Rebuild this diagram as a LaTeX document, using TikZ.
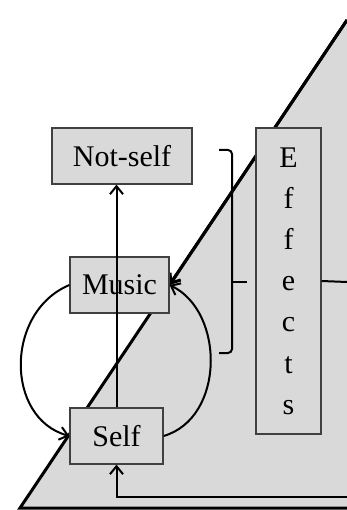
\documentclass[tikz,border=0pt]{standalone}
\usepackage{fontspec}
\setmainfont{Liberation Serif}
\usetikzlibrary{arrows.meta,backgrounds}
\definecolor{fillgray}{RGB}{217,217,217}
\definecolor{linegray}{RGB}{64,64,64}
\tikzset{
  box/.style  = {rectangle, draw=linegray, fill=fillgray, line width=1.2pt,
                 inner sep=0pt, font=\fontsize{30}{41.2}\selectfont},
  line/.style = {line width=2pt},
  link/.style = {line, -{Straight Barb[length=8pt,width=13pt]}},
  edge/.style = {line width=3pt}
}

\begin{document}
\begin{tikzpicture}[x=1pt, y=-1pt]
\useasboundingbox (0,0) rectangle (347,510);

% boxes
\node[box, minimum width=140, minimum height=56] (notself) at (122,156)   {Not-self};
\node[box, minimum width=99,  minimum height=56] (music)   at (119.5,285) {Music};
\node[box, minimum width=93,  minimum height=56] (self)    at (116.5,436) {Self};
\node[box, minimum width=65,  minimum height=306, align=center]
     (effects) at (288.5,281) {E\\f\\f\\e\\c\\t\\s};

% triangle
\begin{scope}[on background layer]
  \coordinate (apex)   at (347,20);
  \coordinate (base)   at (20,508);
  \coordinate (corner) at (347,508);
  \fill[fillgray] (apex) -- (base) -- (corner) -- cycle;
  \draw[edge] (apex) -- (base) -- (corner);
  \draw[edge, -{Straight Barb[length=8pt,width=13pt]}] (apex) -- (music.east);
\end{scope}

% arrows
\coordinate (effout) at (347,282);
\coordinate (feedin) at (347,497);
\draw[link] (self.north) -- (self.north |- notself.south);
\draw[link] (music.west) .. controls (5,312) and (5,418) .. (self.west);
\draw[link] (self.east) .. controls (225,418) and (225,312) .. (music.east);
\draw[line] (effects.east) -- (effout);
\draw[link] (feedin) -| (self.south);

% brace
\draw[line, rounded corners=4pt] (219,150) -- (232,150) -- (232,353) -- (219,353);
\draw[line] (232,282) -- (247,282);

\end{tikzpicture}
\end{document}
